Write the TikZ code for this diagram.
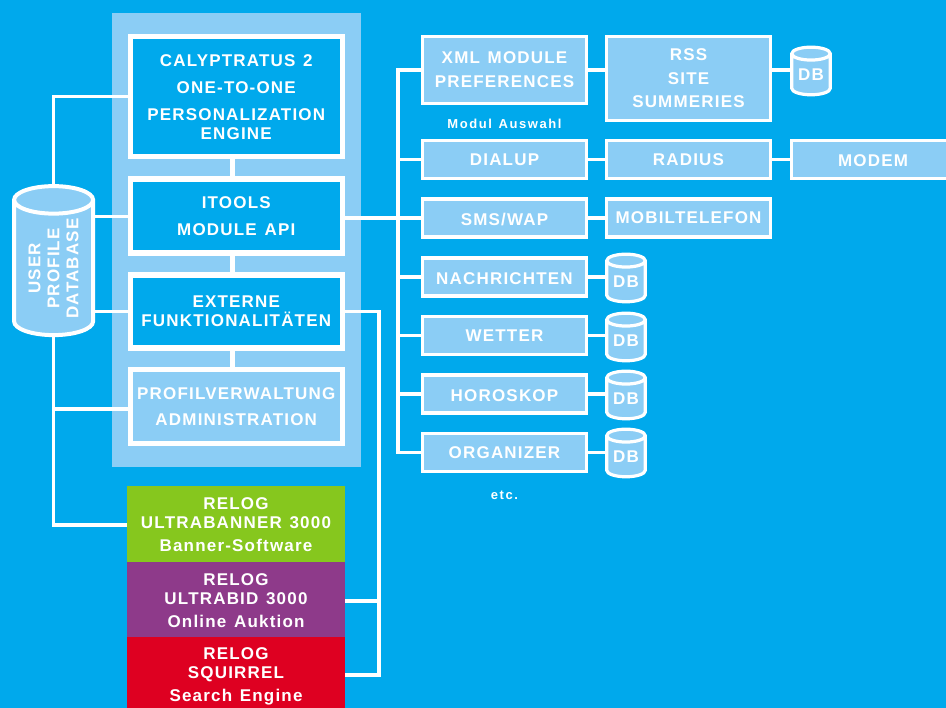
\documentclass[tikz,border=0pt]{standalone}
\usepackage{fontspec}
\setmainfont{Liberation Sans}[LetterSpace=7,WordSpace=1.3]
\usetikzlibrary{shapes.geometric}
\definecolor{skyback}{HTML}{00A9EC}
\definecolor{skylight}{HTML}{8BCDF5}
\definecolor{relgreen}{HTML}{86C71E}
\definecolor{relpurple}{HTML}{8E3A8A}
\definecolor{relred}{HTML}{DE0021}

\tikzset{
	label text/.style={text=white,font=\fontsize{17}{19}\selectfont\bfseries,align=center,inner sep=0pt},
	corebox/.style={label text,draw=white,line width=5.5pt,minimum width=212pt},
	modbox/.style={label text,draw=white,fill=skylight,line width=3.2pt,minimum width=163.8pt},
	lowbox/.style={modbox,text height=15pt},
	relogbox/.style={label text,minimum width=218pt},
	dbcyl/.style={label text,shape=cylinder,draw=white,fill=skylight,line width=3.2pt,shape border rotate=90,aspect=0.5,minimum width=38.5pt,minimum height=47.6pt},
	note text/.style={text=white,font=\fontsize{13}{15}\selectfont\bfseries\addfontfeature{LetterSpace=12},inner sep=0pt},
	link/.style={draw=white,line width=3.2pt},
	fatlink/.style={draw=white,line width=5pt}
}

\begin{document}
\begin{tikzpicture}[x=1pt,y=-1pt]
	\useasboundingbox[fill=skyback] (0,0) rectangle (946,708);

	% panel behind the four engine boxes
	\node[fill=skylight,minimum width=249pt,minimum height=454pt,inner sep=0pt] (panel) at (236.5,240) {};

	\node[corebox,fill=skyback,minimum height=120pt] (calyptratus) at (236.25,96.75) {CALYPTRATUS 2\\[8pt]ONE-TO-ONE\\[8pt]PERSONALIZATION\\ENGINE};
	\node[corebox,fill=skyback,minimum height=74pt] (itools) at (236.25,216.25) {ITOOLS\\[8pt]MODULE API};
	\node[corebox,fill=skyback,minimum height=73pt] (externe) at (236.25,311.3) {EXTERNE\\FUNKTIONALITÄTEN};
	\node[corebox,fill=skylight,minimum height=74pt] (profil) at (236.25,406.3) {PROFILVERWALTUNG\\[7pt]ADMINISTRATION};

	\node[relogbox,fill=relgreen,minimum height=78pt] (ultrabanner) at (236,525) {RELOG\\ULTRABANNER 3000\\[4pt]Banner-Software};
	\node[relogbox,fill=relpurple,minimum height=77pt] (ultrabid) at (236,600.5) {RELOG\\ULTRABID 3000\\[4pt]Online Auktion};
	\node[relogbox,fill=relred,minimum height=79pt] (squirrel) at (236,676.5) {RELOG\\SQUIRREL\\[4pt]Search Engine};

	\node[dbcyl,rotate=90,shape border rotate=0,aspect=0.55,line width=4pt,minimum width=79pt,minimum height=149pt] (userdb) at (53.6,268.5) {USER\\PROFILE\\DATABASE};

	% modules
	\node[modbox,minimum height=66.5pt] (xml) at (504.5,70) {XML MODULE\\[5pt]PREFERENCES};
	\node[modbox,minimum height=38pt] (dialup) at (504.5,159.5) {DIALUP};
	\node[lowbox,minimum height=38pt] (smswap) at (504.5,218) {SMS/WAP};
	\node[lowbox,minimum height=38pt] (nachrichten) at (504.5,277) {NACHRICHTEN};
	\node[modbox,minimum height=38pt] (wetter) at (504.5,335.5) {WETTER};
	\node[lowbox,minimum height=38pt] (horoskop) at (504.5,394) {HOROSKOP};
	\node[modbox,minimum height=38pt] (organizer) at (504.5,452.5) {ORGANIZER};

	\node[modbox,minimum height=83.5pt] (rss) at (688.5,78.5) {RSS\\[4.5pt]SITE\\[4.5pt]SUMMERIES};
	\node[modbox,minimum height=38pt] (radius) at (688.5,159.5) {RADIUS};
	\node[modbox,minimum height=38pt] (mobil) at (688.5,218) {MOBILTELEFON};
	\node[lowbox,minimum height=38pt] (modem) at (873,159.5) {MODEM};

	\node[dbcyl] (rssdb) at (811,75) {DB};
	\node[dbcyl] (nachrichtendb) at (626,282) {DB};
	\node[dbcyl] (wetterdb) at (626,341) {DB};
	\node[dbcyl] (horoskopdb) at (626,399) {DB};
	\node[dbcyl] (organizerdb) at (626,457) {DB};

	\node[note text] (auswahl) at (504.5,124) {Modul Auswahl};
	\node[note text] (etc) at (504.5,495.5) {etc.};

	\coordinate (stemx) at (232.5,0);
	\coordinate (busx) at (398,0);
	\coordinate (extx) at (379,0);
	\coordinate (adminjoin) at (53.6,409);
	\coordinate (bidjoin) at (345,601);
	\coordinate (squirreljoin) at (345,675);

	% engine stack
	\draw[fatlink] (calyptratus.south -| stemx) -- (itools.north -| stemx);
	\draw[fatlink] (itools.south -| stemx) -- (externe.north -| stemx);
	\draw[fatlink] (externe.south -| stemx) -- (profil.north -| stemx);

	% user database
	\draw[link] (userdb.east) |- (calyptratus.west);
	\draw[link] (itools.west) -- (itools.west -| userdb.south);
	\draw[link] (externe.west) -- (externe.west -| userdb.south);
	\draw[link] (userdb.west) |- (ultrabanner.west);
	\draw[link] (adminjoin) -- (adminjoin -| profil.west);

	% module bus
	\draw[link] (smswap.west -| itools.east) -- (smswap.west);
	\draw[link] (xml.west) -| (busx |- organizer.west) -- (organizer.west);
	\foreach \modname in {dialup,nachrichten,wetter,horoskop}
		\draw[link] (busx |- \modname.west) -- (\modname.west);

	\draw[link] (xml.east) -- (xml.east -| rss.west);
	\draw[link] (xml.east -| rss.east) -- (xml.east -| rssdb.west);
	\draw[link] (dialup) -- (radius);
	\draw[link] (radius) -- (modem);
	\draw[link] (smswap) -- (mobil);
	\foreach \modname in {nachrichten,wetter,horoskop,organizer}
		\draw[link] (\modname.east) -- (\modname.east -| \modname db.west);

	% external functions
	\draw[link] (externe.east) -| (extx |- squirreljoin) -- (squirreljoin);
	\draw[link] (bidjoin) -- (extx |- bidjoin);
\end{tikzpicture}
\end{document}
